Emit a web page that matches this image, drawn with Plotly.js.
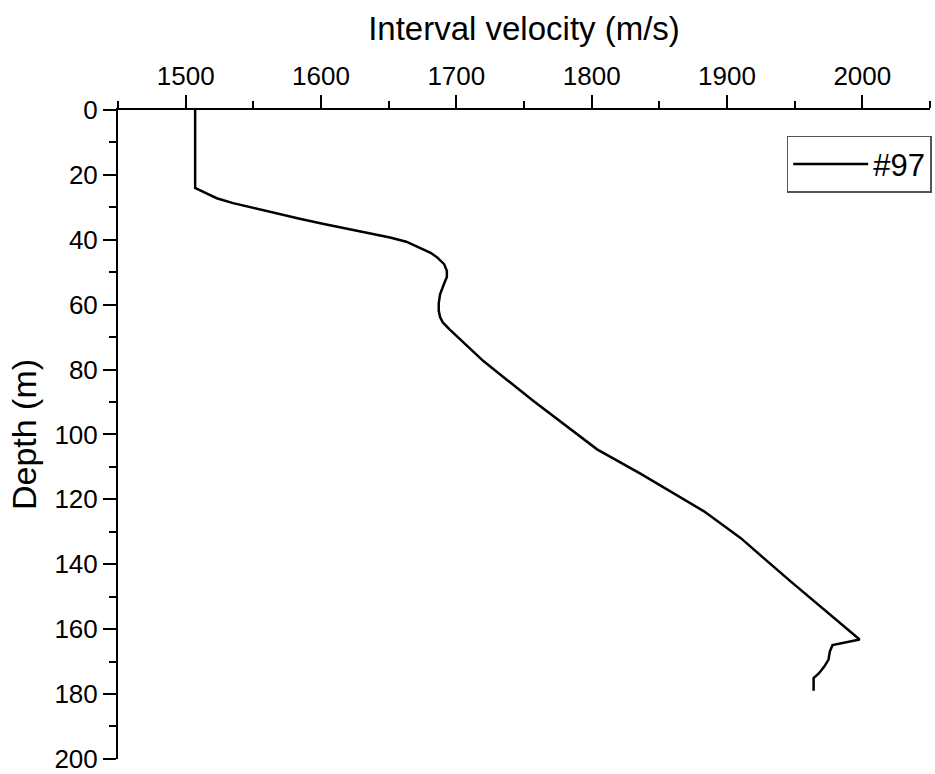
<!DOCTYPE html>
<html>
<head>
<meta charset="utf-8">
<script src="https://cdn.plot.ly/plotly-3.0.1.min.js"></script>
<style>html,body{margin:0;padding:0;background:#fff;}#chart{width:935px;height:774px;}</style>
</head>
<body>
<div id="chart"></div>
<script>
// Interval velocity (m/s) profile for well #97
const seriesName = "#97";
const velocity = [1507, 1507, 1515, 1523, 1535, 1548, 1566, 1585, 1603, 1621, 1638, 1651, 1663, 1673, 1681, 1686, 1691, 1693, 1693, 1691, 1688, 1687, 1687, 1688, 1690, 1695, 1706, 1720, 1757, 1804, 1836, 1883, 1910, 1947, 1998, 1978, 1976, 1975, 1972, 1968, 1964, 1964];
const depth =    [0,    24,   25.6, 27.2, 28.7, 30,   31.8, 33.6, 35.2, 36.7, 38.1, 39.3, 40.6, 42.4, 44,   45.5, 47.5, 49.6, 51.5, 53.5, 56.8, 59.5, 61.9, 63.8, 65.5, 67.6, 72,   77.4, 89.7, 104.6, 112.1, 123.7, 131.9, 145.3, 163.2, 164.9, 166.9, 169.4, 171.5, 173.6, 175.1, 179];
const xTickVals = [1500, 1600, 1700, 1800, 1900, 2000];
const yTickVals = [0, 20, 40, 60, 80, 100, 120, 140, 160, 180, 200];

const fontFam = "Liberation Sans, Arial, sans-serif";
const trace = {
  x: velocity, y: depth, type: "scatter", mode: "lines", name: seriesName,
  line: {color: "#000", width: 2.5},
  showlegend: true
};
const layout = {
  width: 935, height: 774,
  margin: {l: 118, r: 5, t: 109.5, b: 14.5, autoexpand: false},
  paper_bgcolor: "#fff", plot_bgcolor: "#fff",
  font: {family: fontFam, color: "#000"},
  showlegend: true,
  legend: {
    x: 0.8235, y: 0.96, xanchor: "left", yanchor: "top",
    bordercolor: "#555", borderwidth: 1.5, bgcolor: "#fff",
    font: {size: 31, family: fontFam, color: "#000"},
    itemwidth: 75
  },
  xaxis: {
    side: "top", range: [1450, 2050], tickvals: xTickVals, ticktext: xTickVals.map(String),
    showgrid: false, zeroline: false, showline: true, linecolor: "#000", linewidth: 2,
    ticks: "outside", ticklen: 13, tickwidth: 2, tickcolor: "#000",
    tickfont: {size: 26, family: fontFam},
    minor: {dtick: 50, tick0: 1450, ticks: "outside", ticklen: 7, tickwidth: 2, tickcolor: "#000", showgrid: false},
    title: {text: "Interval velocity (m/s)", font: {size: 33, family: fontFam}, standoff: 10},
    fixedrange: true
  },
  yaxis: {
    range: [200.05, 0], tickvals: yTickVals, ticktext: yTickVals.map(String),
    showgrid: false, zeroline: false, showline: true, linecolor: "#000", linewidth: 2,
    ticks: "outside", ticklen: 13, tickwidth: 2, tickcolor: "#000",
    tickfont: {size: 26, family: fontFam},
    minor: {dtick: 10, tick0: 0, ticks: "outside", ticklen: 7, tickwidth: 2, tickcolor: "#000", showgrid: false},
    title: {text: "Depth (m)", font: {size: 34, family: fontFam}, standoff: 8},
    fixedrange: true
  }
};
Plotly.newPlot("chart", [trace], layout, {displayModeBar: false, staticPlot: true});
</script>
</body>
</html>
